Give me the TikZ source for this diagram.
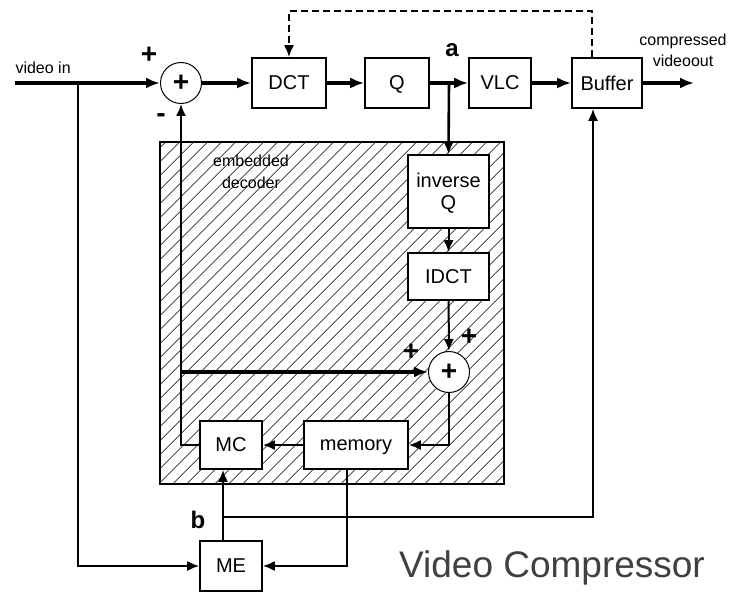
\documentclass[tikz,border=0pt]{standalone}
\usepackage{fontspec}
\setmainfont{Liberation Sans}
\usetikzlibrary{arrows.meta,positioning,calc,patterns.meta}

\begin{document}
\begin{tikzpicture}[x=1pt, y=-1pt,
    block/.style={draw, line width=1.6pt, fill=white, minimum width=62pt, minimum height=48pt, inner sep=0pt, text depth=0pt, font=\fontsize{20}{22}\selectfont},
    adder/.style={draw, circle, line width=1pt, fill=white, minimum size=41pt, inner sep=0pt, font=\bfseries\fontsize{28}{28}\selectfont},
    sign/.style={font=\bfseries\fontsize{28}{28}\selectfont},
    tag/.style={font=\bfseries\fontsize{24}{24}\selectfont},
    main/.style={line width=3.2pt, -{Latex[length=14pt,width=11pt]}},
    link/.style={line width=2pt, -{Latex[length=12pt,width=10pt]}}]
    \useasboundingbox (0,0) rectangle (730,591);

    % Embedded decoder (hatched)
    \node[draw, line width=2.2pt, pattern={Lines[angle=45,distance=10.5pt,line width=0.8pt]}, minimum width=344pt, minimum height=342pt] (dec) at (332,313) {};
    \node[font=\fontsize{16}{22}\selectfont, align=center] (declabel) at (251,172) {embedded\\decoder};

    % Blocks
    \node[adder] (sum1) at (181,83) {+};
    \node[block, minimum width=74pt, minimum height=50pt] (dct) at (289,83) {DCT};
    \node[block, minimum width=64pt, minimum height=50pt] (q) at (397,83) {Q};
    \node[block, minimum height=50pt] (vlc) at (500,83) {VLC};
    \node[block, minimum width=70pt, minimum height=50pt] (buf) at (607,83) {Buffer};
    \node[block, minimum width=81pt, minimum height=73pt, align=center] (iq) at (448.5,191.5) {inverse\\Q};
    \node[block, minimum width=81pt, minimum height=47pt] (idct) at (448.5,276.5) {IDCT};
    \node[adder] (sum2) at (449,372) {+};
    \node[block] (mc) at (231,445) {MC};
    \node[block, minimum width=104pt] (mem) at (356,445) {memory};
    \node[block, minimum height=50pt] (me) at (231,566) {ME};

    % Forward path
    \coordinate (in) at (15,83);
    \coordinate (split) at (78,83);
    \coordinate (out) at (694,83);
    \coordinate (a) at ($(q.east)!0.5!(vlc.west)$);
    \node[font=\fontsize{16}{16}\selectfont, anchor=south west] (inlabel) at (12,77) {video in};
    \draw[main] (in) -- (sum1);
    \draw[main] (sum1) -- (dct);
    \draw[main] (dct) -- (q);
    \draw[main] (q) -- (vlc);
    \draw[main] (vlc) -- (buf);
    \draw[main] (buf) -- (out);
    \node[font=\fontsize{16}{21}\selectfont, align=center] (outlabel) at (683,50) {compressed\\videoout};
    \node[sign] (p1) at (149,55) {+};
    \node[sign] (m1) at (161,118) {-};
    \node[tag] (alabel) at (452,50) {a};

    % Rate control
    \draw[line width=2pt, dashed, dash pattern=on 7pt off 4pt, -{Latex[length=12pt,width=10pt]}] ($(buf.north)+(-15,0)$) -- ++(0,-46) -| (dct.north);

    % Decoder loop
    \draw[line width=2.6pt, -{Latex[length=12pt,width=10pt]}] (a) -- (iq.north);
    \draw[link] (iq) -- (idct);
    \draw[link] (idct) -- (sum2);
    \node[sign] (p2) at (411,352) {+};
    \node[sign] (p3) at (469,337) {+};
    \draw[main] (sum1 |- sum2) -- (sum2);
    \draw[link] (mc.west) -| (sum1.south);
    \draw[link] (sum2.south) |- (mem.east);
    \draw[link] (mem) -- (mc);

    % Motion estimation
    \coordinate (b) at (223,517);
    \node[tag] (blabel) at (198,520) {b};
    \draw[link] (me.north -| b) -- (mc.south -| b);
    \draw[link] (b) -| ($(buf.south)+(-14,0)$);
    \draw[link] ($(mem.south)+(-9,0)$) |- (me.east);
    \draw[link] (split) |- (me.west);

    % Title
    \node[text=black!75, font=\fontsize{37}{37}\selectfont] (title) at (552,568) {Video Compressor};
\end{tikzpicture}
\end{document}
